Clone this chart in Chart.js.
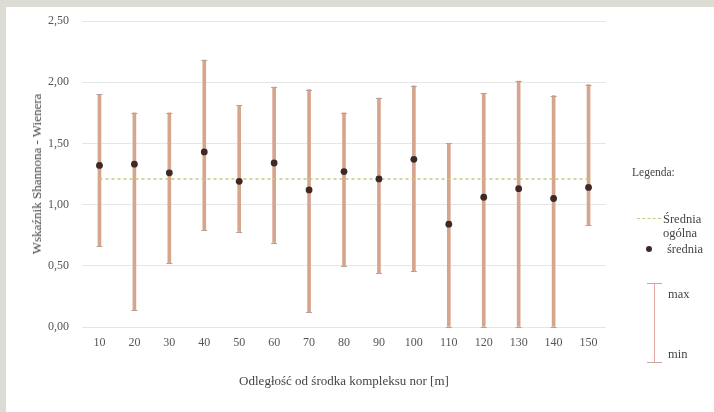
<!DOCTYPE html>
<html>
<head>
<meta charset="utf-8">
<script src="https://cdn.jsdelivr.net/npm/chart.js@4/dist/chart.umd.min.js"></script>
<style>
  body { margin: 0; background: #dcdcd5; width: 714px; height: 412px; overflow: hidden; position: relative; font-family: 'Liberation Serif', serif; color: #444; }
  #panel { position: absolute; left: 6px; top: 7px; width: 708px; height: 405px; background: #fff; }
  #chart { position: absolute; left: 0; top: 0; }
  .txt { position: absolute; white-space: nowrap; font-size: 12.5px; line-height: 14px; }
  #ytitle { left: 37px; top: 174px; font-size: 13px; transform: translate(-50%, -50%) rotate(-90deg); }
  #xtitle { left: 344px; top: 381px; font-size: 13px; transform: translate(-50%, -50%); }
  #legTitle { left: 632px; top: 165px; font-size: 11.5px; }
  #legDash { position: absolute; left: 637px; top: 218px; width: 24px; border-top: 1.5px dashed #c2cf84; }
  #legDot { position: absolute; left: 646px; top: 246px; width: 6px; height: 6px; border-radius: 50%; background: #3d2a26; }
  #legBar { position: absolute; left: 654px; top: 283px; width: 1px; height: 79px; background: #e2aaa2; }
  .cap { position: absolute; left: 647px; width: 15px; height: 1px; background: #c9a8a0; }
</style>
</head>
<body>
<div id="panel"></div>
<canvas id="chart" width="714" height="412"></canvas>
<div class="txt" id="ytitle">Wskaźnik Shannona - Wienera</div>
<div class="txt" id="xtitle">Odległość od środka kompleksu nor [m]</div>
<div class="txt" id="legTitle">Legenda:</div>
<div id="legDash"></div>
<div class="txt" style="left:663px;top:212px;">Średnia</div>
<div class="txt" style="left:663px;top:226px;">ogólna</div>
<div id="legDot"></div>
<div class="txt" style="left:667px;top:242px;">średnia</div>
<div class="cap" style="top:283px;"></div>
<div id="legBar"></div>
<div class="cap" style="top:362px;"></div>
<div class="txt" style="left:668px;top:287px;">max</div>
<div class="txt" style="left:668px;top:347px;">min</div>
<script>
// odległość od środka kompleksu nor [m]
var distances = ['10', '20', '30', '40', '50', '60', '70', '80', '90', '100', '110', '120', '130', '140', '150'];
var meanValues = [1.32, 1.33, 1.26, 1.43, 1.19, 1.34, 1.12, 1.27, 1.21, 1.37, 0.84, 1.06, 1.13, 1.05, 1.14];
var minValues = [0.66, 0.14, 0.52, 0.79, 0.78, 0.69, 0.12, 0.50, 0.44, 0.46, 0.00, 0.00, 0.00, 0.00, 0.83];
var maxValues = [1.90, 1.75, 1.75, 2.18, 1.81, 1.96, 1.94, 1.75, 1.87, 1.97, 1.50, 1.91, 2.01, 1.89, 1.98];
var overallMean = [1.21, 1.21, 1.21, 1.21, 1.21, 1.21, 1.21, 1.21, 1.21, 1.21, 1.21, 1.21, 1.21, 1.21, 1.21];
var yTicks = [0, 0.5, 1, 1.5, 2, 2.5];

var ranges = minValues.map((v, i) => [v, maxValues[i]]);

// small caps on top and bottom of each min-max bar
var capsPlugin = {
    id: 'caps',
    afterDatasetDraw(chart, args) {
        if (args.index !== 0) return;
        var ctx = chart.ctx;
        ctx.save();
        ctx.strokeStyle = '#b8a098';
        ctx.lineWidth = 1;
        args.meta.data.forEach(bar => {
            var p = bar.getProps(['x', 'y', 'base'], true);
            [p.y, p.base].forEach(y => {
                ctx.beginPath();
                ctx.moveTo(p.x - 3, Math.round(y) + 0.5);
                ctx.lineTo(p.x + 3, Math.round(y) + 0.5);
                ctx.stroke();
            });
        });
        ctx.restore();
    }
};

var tickFont = { family: 'Liberation Serif', size: 12 };

new Chart(document.getElementById('chart').getContext('2d'), {
    data: {
        labels: distances,
        datasets: [{
            type: 'bar',
            label: 'min-max',
            data: ranges,
            backgroundColor: '#d6a58d',
            barThickness: 3,
            order: 3
        }, {
            type: 'line',
            label: 'Średnia ogólna',
            data: overallMean,
            borderColor: '#bfcd7e',
            borderWidth: 1.5,
            borderDash: [3, 3],
            pointRadius: 0,
            order: 2
        }, {
            type: 'line',
            label: 'średnia',
            data: meanValues,
            showLine: false,
            pointRadius: 3.4,
            pointBackgroundColor: '#3d2a26',
            pointBorderWidth: 0,
            order: 1
        }]
    },
    options: {
        responsive: false,
        animation: false,
        devicePixelRatio: 1,
        layout: { padding: { left: 0, right: 108, top: 21, bottom: 0 } },
        plugins: {
            legend: { display: false },
            tooltip: { enabled: false }
        },
        scales: {
            x: {
                grid: { display: false, drawTicks: false },
                border: { display: false },
                ticks: { font: tickFont, color: '#555', padding: 9 },
                afterFit: scale => { scale.height = 85; }
            },
            y: {
                min: 0,
                max: 2.5,
                afterBuildTicks: scale => { scale.ticks = yTicks.map(v => ({ value: v })); },
                grid: { color: '#e6e6e6', drawTicks: false },
                border: { display: false },
                ticks: {
                    font: tickFont,
                    color: '#555',
                    padding: 13,
                    callback: v => v.toFixed(2).replace('.', ',')
                },
                afterFit: scale => { scale.width = 82; }
            }
        }
    },
    plugins: [capsPlugin]
});
</script>
</body>
</html>
